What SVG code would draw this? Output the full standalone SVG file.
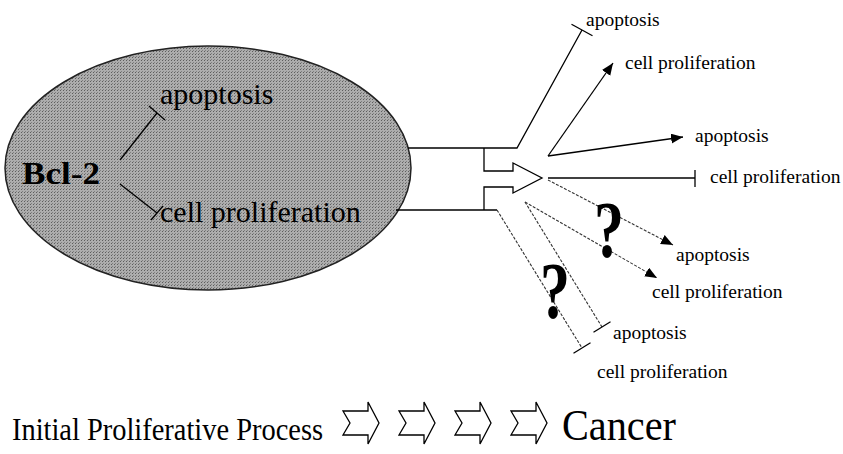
<svg xmlns="http://www.w3.org/2000/svg" width="843" height="454" viewBox="0 0 843 454">
<defs>
<marker id="ah" markerUnits="userSpaceOnUse" markerWidth="14" markerHeight="12" refX="12" refY="5" orient="auto">
<path d="M0,0 L12,5 L0,10 Z" fill="#000"/>
</marker>
<pattern id="dots" width="3" height="3" patternUnits="userSpaceOnUse">
<rect width="3" height="3" fill="#adadad"/>
<rect width="1" height="1" fill="#5e5e5e"/>
<rect x="1" y="2" width="1" height="1" fill="#808080"/>
</pattern>
</defs>
<style>
.t{font-family:"Liberation Serif","Times New Roman",serif;fill:#000}
.s{font-size:19.5px}
.ln{stroke:#000;stroke-width:1.3;fill:none}
.dl{stroke:#333;stroke-width:1.1;fill:none;stroke-dasharray:3 1.5}
.q{font-family:"Liberation Serif",serif;font-weight:bold;font-size:80px;fill:#000}
.blk{fill:#fff;stroke:#000;stroke-width:1.3}
</style>
<rect width="843" height="454" fill="#fff"/>

<g id="bcl2-cell">
<ellipse cx="208" cy="168" rx="203" ry="122" fill="url(#dots)" stroke="#222" stroke-width="1.5"/>
<text class="t" x="22" y="184" font-size="31" font-weight="bold" textLength="78" lengthAdjust="spacingAndGlyphs">Bcl-2</text>
<text class="t" x="160" y="104" font-size="30">apoptosis</text>
<text class="t" x="160" y="222" font-size="30">cell proliferation</text>
<line class="ln" x1="120" y1="160" x2="157" y2="113"/>
<line class="ln" x1="149" y1="106" x2="165" y2="120"/>
<line class="ln" x1="120" y1="184" x2="157" y2="213"/>
<line class="ln" x1="163" y1="206" x2="151" y2="220"/>
</g>

<g id="connectors">
<polyline class="ln" points="408,148 517,148 582,30"/>
<line class="ln" x1="571.5" y1="24.2" x2="592.5" y2="35.8"/>
<polyline class="ln" points="396,210 497,210"/>
<path class="blk" d="M484,148 V171 H513 V163 L542,178 L513,193 V187 H484 V210"/>
<line class="ln" x1="548" y1="156" x2="613" y2="63" marker-end="url(#ah)"/>
<line class="ln" x1="548" y1="156" x2="683" y2="137" marker-end="url(#ah)"/>
<line class="ln" x1="548" y1="178" x2="695" y2="178"/>
<line class="ln" x1="695" y1="170" x2="695" y2="187"/>
<line class="dl" x1="548" y1="180" x2="673" y2="245" marker-end="url(#ah)"/>
<line class="dl" x1="525" y1="202" x2="657" y2="278" marker-end="url(#ah)"/>
<line class="dl" x1="525" y1="202" x2="602" y2="327"/>
<line class="ln" x1="593.5" y1="332.2" x2="610.5" y2="321.8"/>
<line class="dl" x1="497" y1="210" x2="582" y2="348"/>
<line class="ln" x1="573.5" y1="353.2" x2="590.5" y2="342.8"/>
</g>

<g id="outcomes">
<text class="t s" x="586" y="26">apoptosis</text>
<text class="t s" x="625" y="69">cell proliferation</text>
<text class="t s" x="695" y="142">apoptosis</text>
<text class="t s" x="710" y="183">cell proliferation</text>
<text class="t s" x="676" y="261">apoptosis</text>
<text class="t s" x="652" y="298">cell proliferation</text>
<text class="t s" x="613" y="339">apoptosis</text>
<text class="t s" x="597" y="378">cell proliferation</text>
</g>

<g id="question-marks">
<text class="q" transform="translate(594,257) scale(0.75,1)">?</text>
<text class="q" transform="translate(540,318) scale(0.75,1)">?</text>
</g>

<g id="progression">
<text class="t" x="12" y="440" font-size="32" textLength="311" lengthAdjust="spacingAndGlyphs">Initial Proliferative Process</text>
<path class="blk" d="M343,411 H368 V402 L379,423 L368,444 V435 H343 L350,423 Z"/>
<path class="blk" d="M399,411 H424 V402 L435,423 L424,444 V435 H399 L406,423 Z"/>
<path class="blk" d="M455,411 H480 V402 L491,423 L480,444 V435 H455 L462,423 Z"/>
<path class="blk" d="M511,411 H536 V402 L547,423 L536,444 V435 H511 L518,423 Z"/>
<text class="t" x="562" y="440" font-size="44" textLength="114" lengthAdjust="spacingAndGlyphs">Cancer</text>
</g>
</svg>
